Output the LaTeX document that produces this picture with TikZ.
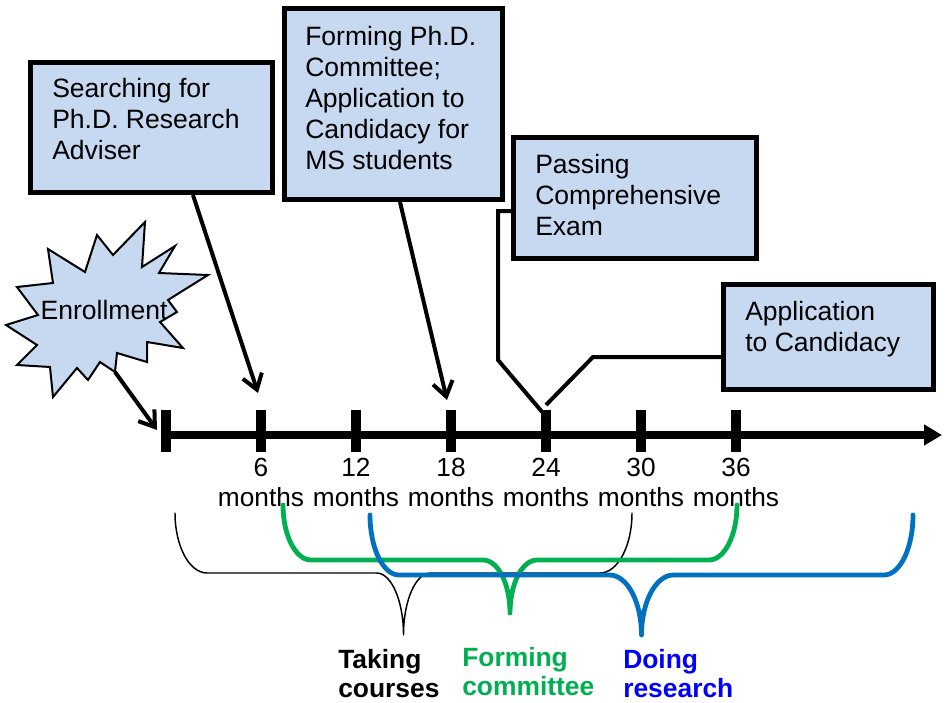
\documentclass[tikz,border=0pt]{standalone}
\usepackage{fontspec}
\setmainfont{Liberation Sans}
\usetikzlibrary{arrows.meta,calc}
\definecolor{boxblue}{RGB}{198,217,241}
\definecolor{grn}{RGB}{0,176,80}
\definecolor{brblue}{RGB}{0,112,192}
\definecolor{txblue}{RGB}{0,0,255}
% #1 x1, #2 x2, #3 ytop, #4 yh, #5 ytip, #6 end radius, #7 middle radius
\newcommand{\bracepath}[7]{%
 (#1,#3) .. controls (#1,{#3+0.552*(#4-#3)}) and ({#1+#6*0.448},#4) .. ({#1+#6},#4)
 -- ({(#1+#2)/2-#7},#4) .. controls ({(#1+#2)/2-#7*0.448},#4) and ({(#1+#2)/2},{#5-0.552*(#5-#4)}) .. ({(#1+#2)/2},#5)
 .. controls ({(#1+#2)/2},{#5-0.552*(#5-#4)}) and ({(#1+#2)/2+#7*0.448},#4) .. ({(#1+#2)/2+#7},#4)
 -- ({#2-#6},#4) .. controls ({#2-#6*0.448},#4) and (#2,{#3+0.552*(#4-#3)}) .. (#2,#3)}
\begin{document}
\begin{tikzpicture}[x=0.75pt,y=-0.75pt,
  txt/.style={inner sep=0pt, align=left, font=\fontsize{19.9pt}{23.25pt}\selectfont},
  lab/.style={inner sep=0pt, align=center, font=\fontsize{19.7pt}{22.5pt}\selectfont},
  blab/.style={inner sep=0pt, align=left, font=\fontsize{19.8pt}{22pt}\selectfont\bfseries},
  box/.style={draw=black, fill=boxblue, line width=3.8pt, inner sep=0pt, anchor=north west},
  tickmark/.style={fill=black, inner sep=0pt, minimum width=7.5pt, minimum height=31.5pt},
  pointer/.style={draw=black, line width=3pt, -{Straight Barb[length=11pt,width=15pt]}},
  callout/.style={draw=black, line width=3pt, line join=miter},
  brace/.style={line cap=round, line join=round}
]
\path[use as bounding box] (0,0) rectangle (946,703);

% timeline
\node[tickmark] (t0) at (166,431) {};
\node[tickmark] (t1) at (261,431) {};
\node[tickmark] (t2) at (356,431) {};
\node[tickmark] (t3) at (451,431) {};
\node[tickmark] (t4) at (546,431) {};
\node[tickmark] (t5) at (641,431) {};
\node[tickmark] (t6) at (736,431) {};
\coordinate (tend) at (942,435);
\draw[line width=6pt, -{Triangle[length=13.5pt,width=15pt]}] (166,435) -- (tend);

\node[lab, anchor=north] (l1) at (261,458) {6\\months};
\node[lab, anchor=north] (l2) at (356,458) {12\\months};
\node[lab, anchor=north] (l3) at (451,458) {18\\months};
\node[lab, anchor=north] (l4) at (546,458) {24\\months};
\node[lab, anchor=north] (l5) at (641,458) {30\\months};
\node[lab, anchor=north] (l6) at (736,458) {36\\months};

% boxes
\node[box, minimum width=181.5pt, minimum height=97.5pt] (box1) at (28,60) {};
\node[txt, anchor=north west] (box1t) at (52,78) {Searching for\\Ph.D. Research\\Adviser};
\node[box, minimum width=163.5pt, minimum height=143.25pt] (box2) at (282,6) {};
\node[txt, anchor=north west] (box2t) at (305,26) {Forming Ph.D.\\Committee;\\Application to\\Candidacy for\\MS students};

\coordinate (c3a) at (498,211);
\coordinate (c3b) at (498,360);
\coordinate (c3tip) at (543,413);
\coordinate (c4a) at (593,357);
\coordinate (c4tip) at (546,405);
\draw[callout] (511,211) -- (c3a) -- (c3b) -- (c3tip);
\draw[callout] (721,357) -- (c4a) -- (c4tip);

\node[box, minimum width=182.25pt, minimum height=90.75pt] (box3) at (511,135) {};
\node[txt, anchor=north west] (box3t) at (535,154) {Passing\\Comprehensive\\Exam};
\node[box, minimum width=157.5pt, minimum height=78.75pt] (box4) at (721,282) {};
\node[txt, anchor=north west] (box4t) at (745,301) {Application\\to Candidacy};

% pointer arrows
\coordinate (a1) at (258,393);
\coordinate (a2) at (447,400);
\draw[pointer] ($(box1.south west)+(165,0)$) -- (a1);
\draw[pointer] ($(box2.south west)+(118,0)$) -- (a2);

% starburst
\draw[fill=boxblue, line width=1.5pt, line join=miter]
 (145,222) -- (142,267) -- (175,246) -- (159,273) -- (208,275) -- (168,300)
 -- (177,312) -- (160,322) -- (183,348) -- (147,342) -- (147,362) -- (117,353)
 -- (115,372) -- (100,362) -- (88,380) -- (77,368) -- (53,397) -- (50,367)
 -- (17,365) -- (37,345) -- (6,325) -- (38,315) -- (17,287) -- (53,283)
 -- (48,249) -- (85,272) -- (97,235) -- (113,255) -- cycle;
\node[txt] (enr) at (104,310) {Enrollment};
\coordinate (es) at (115,372);
\coordinate (ee) at (157,430);
\draw[pointer] (es) -- (ee);

% braces
\draw[brace, line width=1.1pt, black] \bracepath{175}{632}{513}{573}{635}{32}{27};
\draw[brace, line width=3.6pt, grn] \bracepath{283}{737}{505}{560}{613}{28}{27};
\draw[brace, line width=3.6pt, brblue] \bracepath{370}{913}{515}{575}{635}{29}{32};

\node[blab, anchor=north west] (tc) at (338,649) {Taking\\courses};
\node[blab, anchor=north west, text=grn] (fc) at (462,647) {Forming\\committee};
\node[blab, anchor=north west, text=txblue] (dr) at (623,649) {Doing\\research};
\end{tikzpicture}
\end{document}
